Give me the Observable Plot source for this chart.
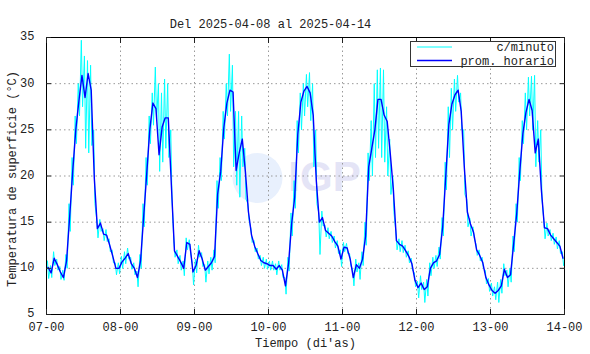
<!DOCTYPE html>
<html><head><meta charset="utf-8">
<script src="https://cdn.jsdelivr.net/npm/d3@7"></script>
<script src="https://cdn.jsdelivr.net/npm/@observablehq/plot@0.6"></script>
<style>
body{margin:0;background:#fff}
#wrap{position:relative;width:590px;height:354px}
#legend{position:absolute;left:0;top:0;pointer-events:none}
</style>
</head><body><div id="wrap"></div>
<script>
// ---- text ----
const title = "Del 2025-04-08 al 2025-04-14";
const xTitle = "Tiempo (di'as)";
const yTitle = "Temperatura de superficie (°C)";
const dayLabels = ["07-00","08-00","09-00","10-00","11-00","12-00","13-00","14-00"];
const yTicks = [5,10,15,20,25,30,35];
const seriesNames = ["c/minuto","prom. horario"];

// ---- hourly mean (prom. horario), one value per hour of each day ----
const blue07 = [10.1,9.5,11.1,10.4,9.6,9.0,10.8,15.5,20.5,25.0,28.1,30.9,28.5,31.1,29.3,19.8,14.3,14.9,13.7,13.6,12.5,11.3,10.0,10.0];
const blue08 = [10.7,11.1,11.6,10.5,10.0,9.0,10.8,15.5,20.2,25.0,27.9,27.3,22.3,25.3,26.3,26.3,19.0,11.9,11.3,10.7,10.0,12.8,12.6,9.6];
const blue09 = [10.3,11.9,11.0,9.8,10.2,10.6,11.3,18.0,20.5,25.2,27.9,29.3,29.1,20.6,22.5,24.0,20.5,16.1,13.6,12.4,11.6,10.85,10.6,10.5];
const blue10 = [10.3,10.3,9.9,10.3,9.8,8.1,10.5,14.8,17.7,24.5,28.0,29.2,29.7,29.0,26.6,19.5,15.0,15.5,14.1,13.8,13.5,12.9,12.4,11.0];
const blue11 = [12.3,12.2,11.0,9.0,10.4,10.0,11.0,13.5,21.0,23.0,25.0,28.3,28.3,26.6,25.9,22.4,18.5,13.0,12.6,12.4,11.9,11.3,10.5,8.7];
const blue12 = [7.9,8.4,7.7,8.0,10.0,10.6,10.8,11.5,14.5,20.0,25.6,27.8,28.8,29.3,27.0,21.0,16.1,14.8,13.9,12.0,11.4,10.6,9.0,8.2];
const blue13 = [7.6,7.3,7.6,8.1,9.9,9.0,9.3,12.6,15.9,20.5,24.6,26.9,28.3,27.1,22.5,24.0,18.5,14.4,14.3,13.6,13.2,12.8,12.4,11.1];

// ---- per-minute series (c/minuto): highest and lowest reading seen in each hour ----
const hi07 = [10.8,10.3,11.8,11.0,10.2,9.8,11.5,17,22,26.5,30,34.7,33,32.5,32,25,15.3,15.3,14.3,14.2,13.2,12,10.6,10.6];
const lo07 = [8.9,9.0,10.3,9.8,8.8,8.7,10.0,14,19,23.5,26.5,27.5,23,22.5,23.3,17,13.3,14.0,13.0,12.9,11.8,10.6,9.3,9.4];
const hi08 = [11.3,11.8,12.2,11.2,10.6,9.7,11.5,17,22,26.5,29,31.8,30,29,30.5,30,25,13,12,11.4,10.8,13.3,13.1,10.5];
const lo08 = [10.0,10.5,11.0,9.9,9.3,8.0,10.0,14.5,19,23.5,25.5,26,20.5,21.5,23,22,17.5,11.2,10.5,9.8,9.2,12.0,11.8,8.2];
const hi09 = [11.0,12.5,11.7,10.4,10.8,11.2,12.0,19.5,22.0,27,30,33.2,32,27,27,26.5,23,17,14.3,13.0,12.2,11.4,11.2,11.0];
const lo09 = [9.5,11.2,10.2,8.5,9.4,9.8,10.6,16.5,19.5,24,26.5,27,21,19,17.7,21,17.5,15.2,12.8,11.8,11.0,10.3,10.0,9.9];
const hi10 = [10.8,10.8,10.5,10.8,10.4,9.0,11.2,16,19.5,26,29,30,31,31.2,30,25,16,16.2,14.7,14.4,14,13.5,13,12];
const lo10 = [9.8,9.8,9.3,9.8,9.0,7.2,9.7,13.5,16.5,22.5,25,26.5,27.5,26,21,17,11.5,14.6,13.4,13.2,12.8,12.2,11.6,10.2];
const hi11 = [12.8,12.7,11.6,9.8,11.0,10.6,11.8,15,22.5,26,30,31.5,31.7,31.5,27.5,24,20,14,13.2,13.0,12.5,11.9,11.1,9.5];
const lo11 = [11.8,11.6,10.3,8.1,9.6,8.8,10.3,12.5,19.5,20,22,23,22,21.5,20,18,16,12,11.8,11.7,11.2,10.6,9.8,8.0];
const hi12 = [8.6,9.2,8.5,8.8,10.6,11.2,11.4,12.3,15.5,21.5,27.5,29.5,30.5,30.9,29,25,17.5,15.4,14.5,12.6,12.0,11.2,9.8,8.9];
const lo12 = [6.8,7.7,6.3,7.0,9.2,10.0,10.2,11.0,13.5,18.5,22,25,27,28,25,18,14.5,13.5,13.3,11.4,10.8,10.0,8.3,7.5];
const hi13 = [8.4,8.0,8.5,8.8,10.5,9.8,10.0,13.5,17,22,26,29,30.7,30.8,30.9,26,25,15.2,14.9,14.2,13.8,13.4,13.0,11.8];
const lo13 = [7.0,6.6,6.3,7.3,9.2,8.0,8.5,11.8,15,19.5,23.5,25,26.5,25,21,21.5,17.5,13.2,13.5,13.0,12.6,12.1,11.6,10.3];

// ---- tables for the library ----
const blue = [].concat(blue07,blue08,blue09,blue10,blue11,blue12,blue13);
const hi = [].concat(hi07,hi08,hi09,hi10,hi11,hi12,hi13);
const lo = [].concat(lo07,lo08,lo09,lo10,lo11,lo12,lo13);
const hourly = blue.map((v,i)=>({t:i+0.5, v}));
const minute = hi.flatMap((h,i)=>[{t:i+0.3, v:h},{t:i+0.7, v:lo[i]}]);
const xTicks = dayLabels.map((d,i)=>i*24);

const FONT = "Liberation Mono";
const chart = Plot.plot({
  width:590, height:354,
  marginLeft:46, marginRight:26, marginTop:37, marginBottom:40,
  x:{domain:[0,168]},
  y:{domain:[5,35]},
  style:{fontFamily:FONT, fontSize:"12px", color:"#222", background:"#fff"},
  marks:[
    Plot.dot([0], {frameAnchor:"middle", dx:-48, dy:2, r:25, fill:"#e8f0fd"}),
    Plot.text(["IGP"], {frameAnchor:"middle", dx:19, dy:2, fontSize:42, fontWeight:"bold", fontFamily:"Liberation Sans", fill:"#e4e4f6"}),
    Plot.gridX(xTicks.slice(1,-1), {stroke:"#999", strokeOpacity:1, strokeDasharray:"1.5,3"}),
    Plot.gridY(yTicks.slice(1,-1), {stroke:"#999", strokeOpacity:1, strokeDasharray:"1.5,3"}),
    Plot.line(minute, {x:"t", y:"v", stroke:"#00ffff", strokeWidth:1, clip:true}),
    Plot.line(hourly, {x:"t", y:"v", stroke:"#0000ff", strokeWidth:1.4, clip:true}),
    Plot.frame({stroke:"#000"}),
    Plot.axisX(xTicks, {anchor:"bottom", tickSize:0, tickPadding:8, tickFormat:d=>dayLabels[xTicks.indexOf(d)], label:null}),
    Plot.axisX(xTicks, {anchor:"bottom", tickSize:5, dy:-5, tickFormat:()=>"", label:null}),
    Plot.axisX(xTicks, {anchor:"top", tickSize:5, dy:5, tickFormat:()=>"", label:null}),
    Plot.axisY(yTicks, {anchor:"left", tickSize:0, tickPadding:12, dy:-1, label:null}),
    Plot.axisY(yTicks, {anchor:"left", tickSize:5, dx:5, tickFormat:()=>"", label:null}),
    Plot.axisY(yTicks, {anchor:"right", tickSize:5, dx:-5, tickFormat:()=>"", label:null}),
    Plot.text([title], {frameAnchor:"top", dx:-35, dy:-18, fontSize:12}),
    Plot.text([xTitle], {frameAnchor:"bottom", dy:32, fontSize:12}),
    Plot.text([yTitle], {frameAnchor:"left", textAnchor:"middle", dx:-34, dy:3, rotate:-90, fontSize:12})
  ]
});
const wrap = document.getElementById("wrap");
wrap.appendChild(chart);

// legend overlay
const ns = "http://www.w3.org/2000/svg";
const lg = document.createElementNS(ns,"svg");
lg.setAttribute("id","legend"); lg.setAttribute("width",590); lg.setAttribute("height",354);
const colors = ["#00ffff","#0000ff"];
const widths = [1,1.5];
let html = `<rect x="410.5" y="41.5" width="145" height="25" fill="#fff" stroke="#333" stroke-width="1"/>`;
seriesNames.forEach((n,i)=>{
  const yy = 47 + i*13.5;
  html += `<line x1="417" x2="452" y1="${yy}" y2="${yy}" stroke="${colors[i]}" stroke-width="${widths[i]}"/>`;
  html += `<text x="554" y="${yy+4}" text-anchor="end" font-family="${FONT}" font-size="12" fill="#222">${n}</text>`;
});
lg.innerHTML = html;
wrap.appendChild(lg);
</script>
</body></html>
